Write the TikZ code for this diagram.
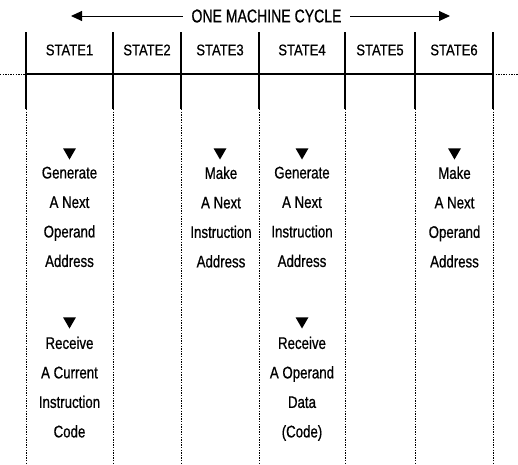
\documentclass[tikz,border=0pt]{standalone}
\usepackage{fontspec}
\setmainfont{Liberation Sans}[FakeStretch=0.79,FakeBold=0.7]
\newfontfamily\titlefont{Liberation Sans}[FakeStretch=0.76,FakeBold=0.7]
\newfontfamily\statefont{Liberation Sans}[FakeStretch=0.84,FakeBold=0.7]
\usetikzlibrary{arrows.meta,shapes.geometric}
\begin{document}
\begin{tikzpicture}[x=1pt,y=-1pt,
  solidv/.style={line width=2pt},
  solidh/.style={line width=2.6pt},
  dsh/.style={line width=0.8pt, dash pattern=on 1.4pt off 1.2pt},
  ttl/.style={font=\titlefont\fontsize{18.5}{20}\selectfont, inner ysep=0pt, inner xsep=8.5pt},
  stlbl/.style={font=\statefont\fontsize{15.5}{18}\selectfont, inner sep=0pt},
  blk/.style={font=\fontsize{16.8}{29.5}\selectfont, align=center, inner sep=0pt, anchor=north},
  tri/.style={regular polygon, regular polygon sides=3, shape border rotate=180, fill=black, draw=none, inner sep=0pt, minimum size=15pt},
  cyc/.style={line width=1pt, -{Triangle[length=11pt,width=10pt]}}
]
\useasboundingbox (0,0) rectangle (518,464);
% grid lines
\foreach \x in {26,113,181,259,345,415,493}{
  \draw[solidv] (\x,32) -- (\x,109);
  \draw[dsh] (\x,109) -- (\x,464);
}
\draw[solidh] (26,74) -- (493,74);
\draw[dsh] (0,74) -- (26,74);
\draw[dsh] (493,74) -- (518,74);
% title with arrows
\node[ttl] (cycle) at (266.5,16) {ONE MACHINE CYCLE};
\coordinate (cycL) at (71,16);
\coordinate (cycR) at (450,16);
\draw[cyc] (cycle.west) -- (cycL);
\draw[cyc] (cycle.east) -- (cycR);
% state labels
\node[stlbl] (s1) at (69.5,50) {STATE1};
\node[stlbl] (s2) at (147,50) {STATE2};
\node[stlbl] (s3) at (220,50) {STATE3};
\node[stlbl] (s4) at (302,50) {STATE4};
\node[stlbl] (s5) at (380,50) {STATE5};
\node[stlbl] (s6) at (454,50) {STATE6};
% first group
\node[tri] (t1) at (69.5,152) {};
\node[blk] (b1) at (69.5,166.5) {Generate\\A Next\\Operand\\Address};
\node[tri] (t3) at (220,152) {};
\node[blk] (b3) at (221,166.5) {Make\\A Next\\Instruction\\Address};
\node[tri] (t4) at (302,152) {};
\node[blk] (b4) at (302,166.5) {Generate\\A Next\\Instruction\\Address};
\node[tri] (t6) at (454.5,152) {};
\node[blk] (b6) at (454.5,166.5) {Make\\A Next\\Operand\\Address};
% second group
\node[tri] (t1b) at (69.5,321) {};
\node[blk] (b1b) at (69.5,336.5) {Receive\\A Current\\Instruction\\Code};
\node[tri] (t4b) at (302,321) {};
\node[blk] (b4b) at (302,336.5) {Receive\\A Operand\\Data\\(Code)};
\end{tikzpicture}
\end{document}
